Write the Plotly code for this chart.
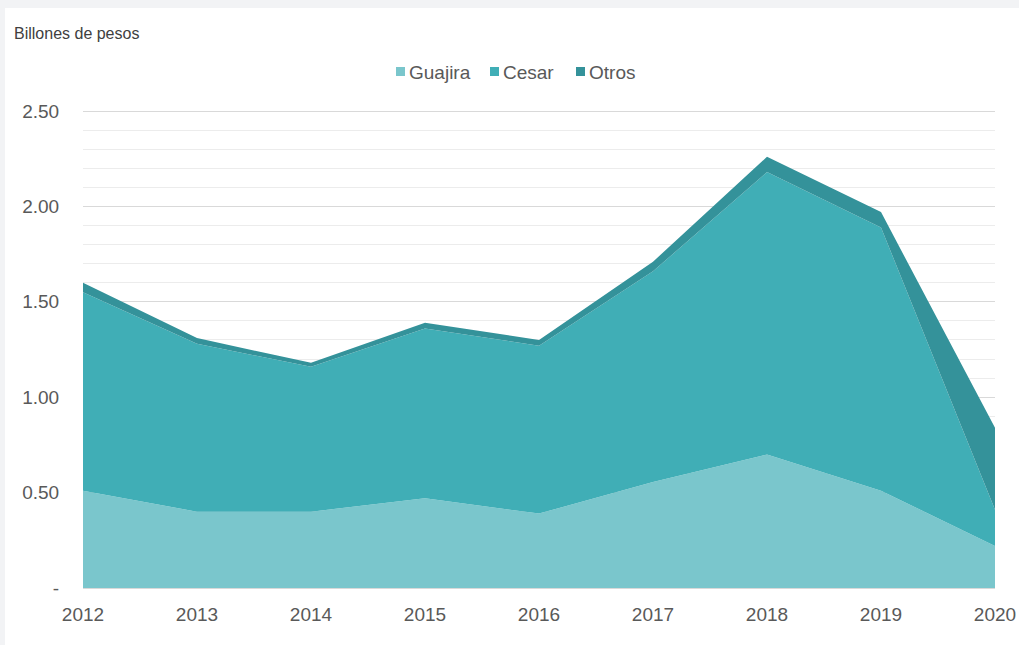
import plotly.graph_objects as go

years = [2012, 2013, 2014, 2015, 2016, 2017, 2018, 2019, 2020]
guajira = [0.51, 0.40, 0.40, 0.47, 0.39, 0.555, 0.70, 0.51, 0.22]
cesar = [1.04, 0.88, 0.76, 0.89, 0.88, 1.105, 1.48, 1.38, 0.19]
otros = [0.05, 0.03, 0.02, 0.03, 0.03, 0.05, 0.08, 0.08, 0.43]

series_names = ["Guajira", "Cesar", "Otros"]
series_colors = ["#7ac6cc", "#40aeb6", "#34929a"]
y_tickvals = [0, 0.5, 1.0, 1.5, 2.0, 2.5]
y_ticktext = ["-", "0.50", "1.00", "1.50", "2.00", "2.50"]

W, H = 1019, 645
ML, MR, MT, MB = 83, 24, 108, 57
PW, PH = W - ML - MR, H - MT - MB
Y_TOP = 2.5 * PH / (PH - 3)  # leave 3px above the 2.50 gridline so it is drawn


def px_x(px):
    return (px - ML) / PW


def px_y(py):
    return (H - MB - py) / PH


fig = go.Figure()
for name, vals, col in zip(series_names, [guajira, cesar, otros], series_colors):
    fig.add_trace(go.Scatter(
        x=years, y=vals, name=name, mode="none",
        stackgroup="one", fillcolor=col, line=dict(width=0), showlegend=False,
    ))

shapes = [dict(type="rect", xref="paper", yref="paper",
               x0=px_x(5), x1=px_x(W), y0=px_y(H), y1=px_y(8),
               fillcolor="white", line=dict(width=0), layer="below")]
annotations = [dict(text="Billones de pesos", xref="paper", yref="paper",
                    x=px_x(12), y=px_y(33), xanchor="left", yanchor="middle",
                    showarrow=False, font=dict(size=16, color="#404040"))]

# manual legend (square swatches + labels)
legend_sq_left = [396, 490, 576]
for name, col, sx in zip(series_names, series_colors, legend_sq_left):
    shapes.append(dict(type="rect", xref="paper", yref="paper",
                       x0=px_x(sx), x1=px_x(sx + 9), y0=px_y(76), y1=px_y(67),
                       fillcolor=col, line=dict(width=0)))
    annotations.append(dict(text=name, xref="paper", yref="paper",
                            x=px_x(sx + 11), y=px_y(72), xanchor="left", yanchor="middle",
                            showarrow=False, font=dict(size=19, color="#595959")))

fig.update_layout(
    width=W, height=H,
    paper_bgcolor="#f2f3f5", plot_bgcolor="white",
    margin=dict(l=ML, r=MR, t=MT, b=MB, autoexpand=False),
    font=dict(family="Liberation Sans, Arial, sans-serif", color="#595959", size=19),
    showlegend=False,
    shapes=shapes,
    annotations=annotations,
)

fig.update_xaxes(range=[2012, 2020], tickvals=years, ticktext=[str(y) for y in years],
                 showgrid=False, showline=True, linecolor="#d9d9d9", linewidth=1,
                 ticks="outside", tickcolor="rgba(0,0,0,0)", ticklen=9,
                 tickfont=dict(size=19, color="#595959"), zeroline=False, automargin=False)
fig.update_yaxes(range=[0, Y_TOP], tickvals=y_tickvals, ticktext=y_ticktext,
                 showgrid=True, gridcolor="#d9d9d9", gridwidth=1,
                 minor=dict(tickvals=[round(0.1 * i, 1) for i in range(1, 25) if i % 5],
                            showgrid=True, gridcolor="#ececec", gridwidth=1),
                 ticks="outside", tickcolor="rgba(0,0,0,0)", ticklen=19,
                 tickfont=dict(size=19, color="#595959"), zeroline=False, automargin=False)

fig.write_html("out.html", config={"displayModeBar": False},
               post_script="document.body.style.margin='0';document.body.style.padding='0';")
